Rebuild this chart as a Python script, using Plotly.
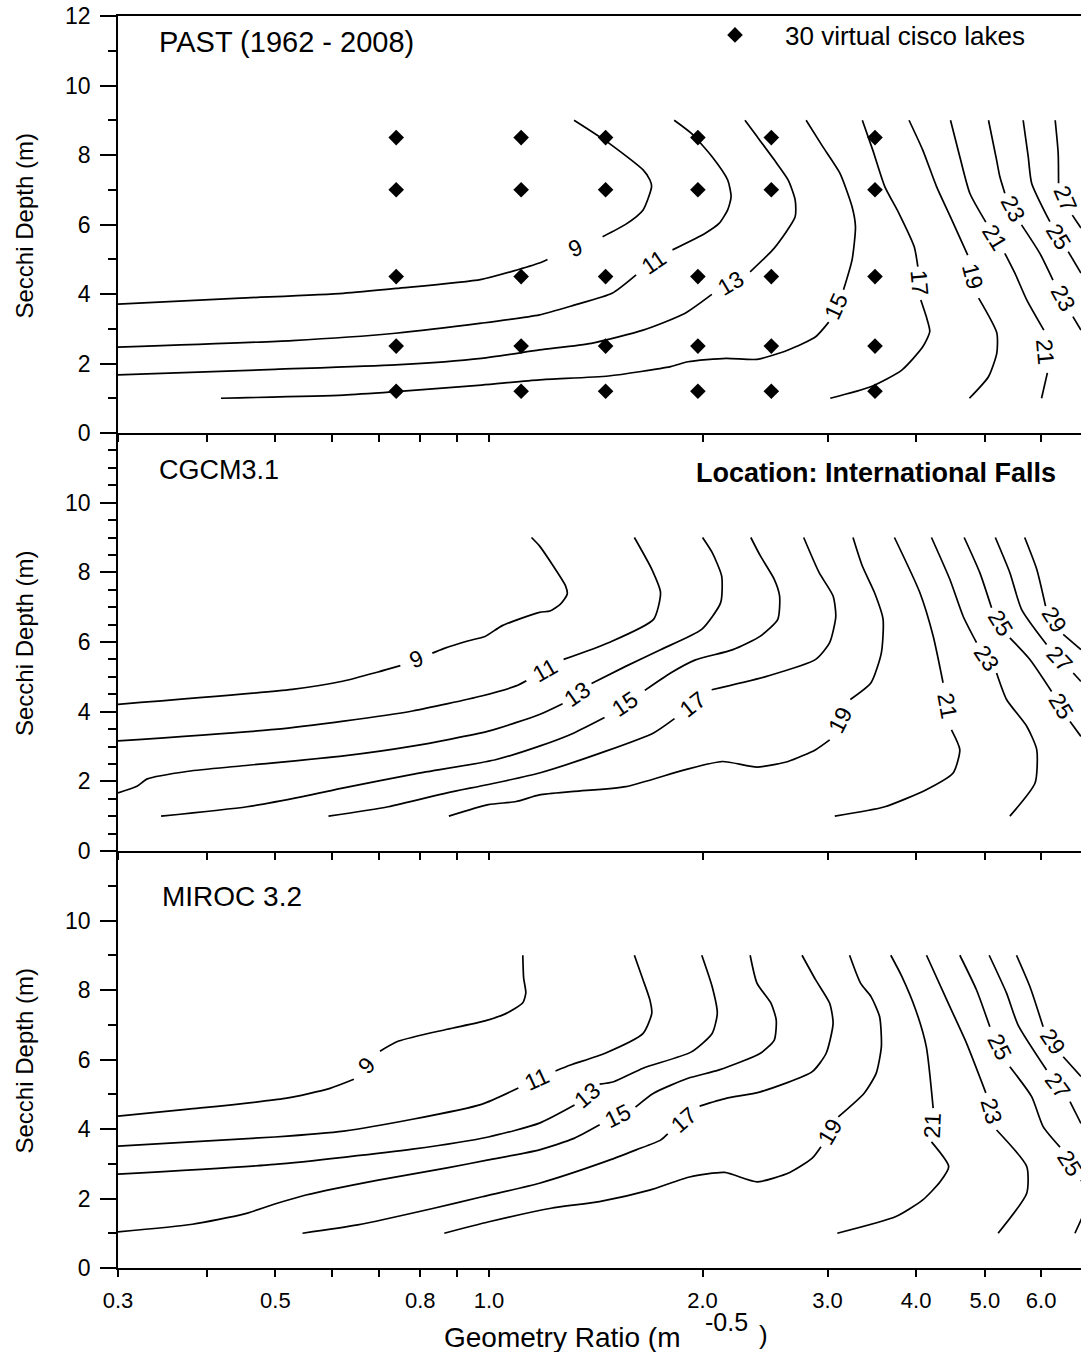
import math
import plotly.graph_objects as go

FONT = "Liberation Sans, Arial, Helvetica, sans-serif"

# ---------------- axis / tick data ----------------
x_min, x_max = 0.3, 6.83
y_min, y_max = 0, 12
x_tick_vals = [0.3, 0.4, 0.5, 0.6, 0.7, 0.8, 0.9, 1.0, 2.0, 3.0, 4.0, 5.0, 6.0]
x_tick_text = ["0.3", "", "0.5", "", "", "0.8", "", "1.0", "2.0", "3.0", "4.0", "5.0", "6.0"]
y_tick_vals_top = [0, 2, 4, 6, 8, 10, 12]
y_tick_vals = [0, 2, 4, 6, 8, 10]
panel_names = ["PAST (1962 - 2008)", "CGCM3.1", "MIROC 3.2"]
y_minor_step = [1, 0.5, 1]

# ---------------- 30 virtual cisco lakes ----------------
lake_gr = [0.74, 1.11, 1.46, 1.97, 2.5, 3.5]
lake_sd = [1.2, 2.5, 4.5, 7.0, 8.5]

# ---------------- PAST isotherms (None = label gap) ----------------
past_9_gr = [0.30, 0.446, 0.623, 0.740, 0.976, 1.178, 1.209, None, 1.446, 1.560, 1.649, 1.695, 1.686, 1.649, 1.474, 1.318]
past_9_sd = [3.71, 3.88, 4.02, 4.16, 4.42, 4.89, 4.99, None, 5.65, 6.01, 6.42, 7.09, 7.28, 7.57, 8.35, 9.0]
past_11_gr = [0.30, 0.528, 0.738, 0.976, 1.178, 1.318, 1.491, 1.612, None, 1.814, 2.018, 2.110, 2.170, 2.194, 2.170, 2.063, 1.929, 1.824]
past_11_sd = [2.47, 2.66, 2.87, 3.16, 3.40, 3.68, 4.02, 4.55, None, 5.27, 5.75, 6.03, 6.42, 6.80, 7.28, 7.95, 8.62, 9.0]
past_13_gr = [0.30, 0.499, 0.738, 0.976, 1.178, 1.394, 1.649, 1.887, 2.061, None, 2.334, 2.524, 2.701, 2.701, 2.641, 2.524, 2.387, 2.295]
past_13_sd = [1.67, 1.83, 1.96, 2.15, 2.39, 2.58, 2.96, 3.44, 3.99, None, 4.64, 5.32, 6.22, 6.71, 7.28, 7.86, 8.53, 9.0]
past_15_gr = [0.419, 0.624, 0.740, 0.976, 1.178, 1.474, 1.803, 1.908, 2.158, 2.387, 2.640, 2.887, 3.012, None, 3.160, 3.249, 3.285, 3.249, 3.124, 2.954, 2.799]
past_15_sd = [1.00, 1.09, 1.19, 1.38, 1.53, 1.64, 1.91, 2.05, 2.15, 2.12, 2.39, 2.77, 3.19, None, 4.12, 4.98, 5.94, 6.51, 7.47, 8.24, 9.0]
past_17_gr = [3.027, 3.452, 3.818, 4.087, 4.181, 4.134, 4.061, None, 4.022, 3.975, 3.781, 3.613, 3.475, 3.359]
past_17_sd = [1.00, 1.33, 1.81, 2.48, 2.92, 3.35, 3.83, None, 4.79, 5.36, 6.33, 7.09, 8.14, 9.0]
past_19_gr = [3.909, 4.087, 4.274, 4.471, 4.729, None, 4.90, 5.197, 5.197, 5.058, 4.755]
past_19_sd = [9.0, 8.14, 7.09, 6.22, 5.12, None, 3.88, 2.88, 2.30, 1.62, 1.00]
past_21_gr = [4.472, 4.609, 4.761, 5.015, None, 5.334, 5.511, 5.727, 6.054, None, 6.124, 6.009]
past_21_sd = [9.0, 7.95, 6.90, 6.07, None, 5.17, 4.60, 3.83, 2.96, None, 1.73, 1.00]
past_23_gr = [5.059, 5.193, 5.248, 5.334, None, 5.631, 5.976, 6.236, None, 6.653, 6.829]
past_23_sd = [9.0, 7.86, 7.38, 6.90, None, 5.99, 5.17, 4.40, None, 3.35, 2.96]
past_25_gr = [5.661, 5.755, 5.819, 6.174, None, 6.552, 6.829]
past_25_sd = [9.0, 7.95, 7.19, 6.08, None, 5.22, 4.60]
past_27_gr = [6.281, 6.342, 6.350, None, 6.640, 6.829]
past_27_sd = [9.0, 8.06, 7.19, None, 6.27, 5.90]

# ---------------- CGCM3.1 isotherms ----------------
cgcm_9_gr = [0.30, 0.528, 0.624, 0.698, 0.750, None, 0.832, 0.863, 0.933, 0.987, 1.044, 1.178, 1.219, 1.260, 1.289, 1.282, 1.232, 1.178, 1.148]
cgcm_9_sd = [4.21, 4.64, 4.88, 5.14, 5.32, None, 5.68, 5.81, 6.03, 6.16, 6.47, 6.85, 6.89, 7.08, 7.37, 7.61, 8.18, 8.76, 9.0]
cgcm_11_gr = [0.30, 0.499, 0.624, 0.780, 0.976, 1.092, 1.129, None, 1.274, 1.474, 1.706, 1.745, 1.696, 1.603]
cgcm_11_sd = [3.16, 3.49, 3.73, 4.02, 4.45, 4.74, 4.89, None, 5.50, 5.98, 6.65, 7.42, 8.09, 9.0]
cgcm_13_gr = [0.30, 0.319, 0.330, 0.377, 0.446, 0.624, 0.780, 0.998, 1.178, 1.270, None, 1.395, 1.558, 1.745, 1.994, 2.121, 2.128, 2.063, 2.0]
cgcm_13_sd = [1.67, 1.86, 2.07, 2.29, 2.44, 2.73, 3.01, 3.44, 3.92, 4.23, None, 4.81, 5.30, 5.78, 6.36, 7.13, 7.89, 8.57, 9.0]
cgcm_15_gr = [0.345, 0.456, 0.546, 0.624, 0.780, 1.021, 1.178, 1.318, 1.455, None, 1.658, 1.803, 1.951, 2.207, 2.413, 2.553, 2.568, 2.524, 2.413, 2.339]
cgcm_15_sd = [1.0, 1.27, 1.56, 1.81, 2.20, 2.62, 3.01, 3.39, 3.83, None, 4.61, 5.11, 5.48, 5.78, 6.17, 6.65, 7.32, 7.80, 8.47, 9.0]
cgcm_17_gr = [0.594, 0.721, 0.873, 0.998, 1.178, 1.458, 1.706, 1.826, None, 2.06, 2.468, 2.887, 3.021, 3.082, 3.055, 2.920, 2.777]
cgcm_17_sd = [1.0, 1.27, 1.67, 1.91, 2.24, 2.86, 3.39, 3.80, None, 4.63, 5.02, 5.50, 5.98, 6.74, 7.32, 7.99, 9.0]
cgcm_19_gr = [0.878, 0.998, 1.092, 1.178, 1.318, 1.560, 1.887, 2.134, 2.387, 2.640, 2.887, 3.021, None, 3.231, 3.455, 3.573, 3.593, 3.494, 3.359, 3.259]
cgcm_19_sd = [1.0, 1.33, 1.42, 1.61, 1.71, 1.85, 2.33, 2.57, 2.41, 2.57, 2.91, 3.19, None, 4.35, 4.83, 5.69, 6.65, 7.42, 8.18, 9.0]
cgcm_21_gr = [3.728, 4.048, 4.227, 4.365, None, 4.486, 4.609, 4.510, 4.134, 3.613, 3.072]
cgcm_21_sd = [9.0, 7.42, 6.17, 4.83, None, 3.48, 2.91, 2.24, 1.76, 1.27, 1.0]
cgcm_23_gr = [4.204, 4.462, 4.659, 4.866, None, 5.193, 5.364, 5.727, 5.916, 5.884, 5.422]
cgcm_23_sd = [9.0, 7.80, 6.74, 5.98, None, 5.11, 4.35, 3.58, 2.91, 1.95, 1.0]
cgcm_25_gr = [4.675, 4.918, 5.109, None, 5.422, 5.786, 6.209, None, 6.591, 6.829]
cgcm_25_sd = [9.0, 7.99, 6.98, None, 6.12, 5.50, 4.58, None, 3.72, 3.29]
cgcm_27_gr = [5.172, 5.422, 5.631, 6.108, None, 6.660, 6.829]
cgcm_27_sd = [9.0, 7.99, 6.94, 5.93, None, 5.11, 4.87]
cgcm_29_gr = [5.689, 5.916, 6.088, None, 6.447, 6.829]
cgcm_29_sd = [9.0, 8.09, 7.03, None, 6.22, 5.78]

# ---------------- MIROC 3.2 isotherms ----------------
miroc_9_gr = [0.30, 0.377, 0.516, 0.597, 0.645, None, 0.702, 0.746, 0.873, 0.987, 1.056, 1.116, 1.127, 1.119, 1.116]
miroc_9_sd = [4.37, 4.57, 4.88, 5.17, 5.43, None, 6.24, 6.53, 6.87, 7.11, 7.32, 7.63, 7.92, 8.35, 9.0]
miroc_11_gr = [0.30, 0.499, 0.624, 0.780, 0.976, 1.100, None, 1.241, 1.303, 1.458, 1.649, 1.696, 1.686, 1.649, 1.603]
miroc_11_sd = [3.51, 3.77, 3.94, 4.28, 4.71, 5.18, None, 5.67, 5.84, 6.18, 6.75, 7.33, 7.71, 8.29, 9.0]
miroc_13_gr = [0.30, 0.499, 0.780, 0.998, 1.178, 1.320, None, 1.432, 1.499, 1.649, 1.929, 2.063, 2.098, 2.063, 1.995]
miroc_13_sd = [2.70, 2.98, 3.42, 3.77, 4.17, 4.69, None, 5.29, 5.36, 5.75, 6.22, 6.75, 7.33, 8.10, 9.0]
miroc_15_gr = [0.30, 0.382, 0.451, 0.499, 0.552, 0.698, 0.873, 0.998, 1.178, 1.318, 1.432, None, 1.609, 1.706, 1.908, 2.110, 2.413, 2.524, 2.540, 2.497, 2.387, 2.334]
miroc_15_sd = [1.04, 1.26, 1.55, 1.84, 2.10, 2.53, 2.88, 3.11, 3.40, 3.73, 4.12, None, 4.63, 5.03, 5.46, 5.70, 6.18, 6.56, 7.14, 7.62, 8.19, 9.0]
miroc_17_gr = [0.546, 0.653, 0.836, 0.978, 1.178, 1.458, 1.612, 1.745, 1.786, None, 1.981, 2.158, 2.413, 2.855, 2.987, 3.055, 3.021, 2.887, 2.762]
miroc_17_sd = [1.0, 1.24, 1.72, 2.05, 2.44, 3.06, 3.40, 3.68, 3.86, None, 4.66, 4.88, 5.07, 5.65, 6.18, 7.04, 7.62, 8.29, 9.0]
miroc_19_gr = [0.865, 1.0, 1.223, 1.431, 1.684, 1.918, 2.148, 2.387, 2.654, 2.855, 2.937, None, 3.107, 3.379, 3.513, 3.573, 3.553, 3.455, 3.341, 3.223]
miroc_19_sd = [1.0, 1.33, 1.72, 1.91, 2.24, 2.62, 2.75, 2.48, 2.75, 3.16, 3.49, None, 4.35, 5.03, 5.60, 6.37, 7.23, 7.81, 8.19, 9.0]
miroc_21_gr = [3.684, 3.821, 3.996, 4.134, 4.227, None, 4.204, 4.446, 4.324, 4.087, 3.746, 3.097]
miroc_21_sd = [9.0, 8.38, 7.42, 6.37, 4.60, None, 3.63, 2.92, 2.48, 1.96, 1.48, 1.0]
miroc_23_gr = [4.137, 4.462, 4.710, 5.015, None, 5.193, 5.727, 5.727, 5.219]
miroc_23_sd = [9.0, 7.52, 6.47, 5.04, None, 3.97, 2.92, 2.15, 1.0]
miroc_23b_gr = [6.697, 6.829, 7.03]
miroc_23b_sd = [1.0, 1.38, 1.96]
miroc_25_gr = [4.609, 4.866, 5.081, None, 5.422, 5.819, 6.040, 6.380, None, 6.829, 7.03]
miroc_25_sd = [9.0, 8.0, 6.94, None, 5.79, 4.93, 4.07, 3.48, None, 2.53, 2.10]
miroc_27_gr = [5.070, 5.364, 5.569, 6.108, None, 6.591, 6.829]
miroc_27_sd = [9.0, 7.91, 6.99, 5.70, None, 4.79, 4.16]
miroc_29_gr = [5.540, 5.786, 6.040, None, 6.447, 6.829]
miroc_29_sd = [9.0, 8.10, 6.94, None, 6.08, 5.51]

# (level, x, y, labelled)
past_lines = [(9, past_9_gr, past_9_sd, True), (11, past_11_gr, past_11_sd, True),
              (13, past_13_gr, past_13_sd, True), (15, past_15_gr, past_15_sd, True),
              (17, past_17_gr, past_17_sd, True), (19, past_19_gr, past_19_sd, True),
              (21, past_21_gr, past_21_sd, True), (23, past_23_gr, past_23_sd, True),
              (25, past_25_gr, past_25_sd, True), (27, past_27_gr, past_27_sd, True)]
cgcm_lines = [(9, cgcm_9_gr, cgcm_9_sd, True), (11, cgcm_11_gr, cgcm_11_sd, True),
              (13, cgcm_13_gr, cgcm_13_sd, True), (15, cgcm_15_gr, cgcm_15_sd, True),
              (17, cgcm_17_gr, cgcm_17_sd, True), (19, cgcm_19_gr, cgcm_19_sd, True),
              (21, cgcm_21_gr, cgcm_21_sd, True), (23, cgcm_23_gr, cgcm_23_sd, True),
              (25, cgcm_25_gr, cgcm_25_sd, True), (27, cgcm_27_gr, cgcm_27_sd, True),
              (29, cgcm_29_gr, cgcm_29_sd, True)]
miroc_lines = [(9, miroc_9_gr, miroc_9_sd, True), (11, miroc_11_gr, miroc_11_sd, True),
               (13, miroc_13_gr, miroc_13_sd, True), (15, miroc_15_gr, miroc_15_sd, True),
               (17, miroc_17_gr, miroc_17_sd, True), (19, miroc_19_gr, miroc_19_sd, True),
               (21, miroc_21_gr, miroc_21_sd, True), (23, miroc_23_gr, miroc_23_sd, True),
               (23, miroc_23b_gr, miroc_23b_sd, False), (25, miroc_25_gr, miroc_25_sd, True),
               (27, miroc_27_gr, miroc_27_sd, True), (29, miroc_29_gr, miroc_29_sd, True)]
all_panels = [past_lines, cgcm_lines, miroc_lines]

# ---------------- layout geometry ----------------
W, H = 1081, 1352
ML, MR, MT, MB = 118, 0, 16, 84
PW = W - ML - MR
PH = H - MT - MB
panel_px = [(16, 433), (433, 851), (851, 1268)]   # (top, bottom) in page pixels
domains = [[(H - MB - b) / PH, (H - MB - t) / PH] for (t, b) in panel_px]
lx0, lx1 = math.log10(x_min), math.log10(x_max)
px_per_dec = PW / (lx1 - lx0)


def paper_x(px):
    return (px - ML) / PW


def paper_y(py):
    return (H - MB - py) / PH


fig = go.Figure()
annotations = []
shapes = []

for i, lines in enumerate(all_panels):
    sfx = "" if i == 0 else str(i + 1)
    xa, ya = "x" + sfx, "y" + sfx
    top, bot = panel_px[i]
    px_per_unit = (bot - top) / (y_max - y_min)
    for level, xs, ys, labelled in lines:
        fig.add_trace(go.Scatter(
            x=xs, y=ys, mode="lines", xaxis=xa, yaxis=ya,
            line=dict(color="black", width=1.7, shape="spline", smoothing=0.6),
            connectgaps=False, showlegend=False, hoverinfo="skip"))
        if not labelled:
            continue
        for k, v in enumerate(xs):
            if v is None:
                xa0, ya0 = xs[k - 1], ys[k - 1]
                xb0, yb0 = xs[k + 1], ys[k + 1]
                la, lb = math.log10(xa0), math.log10(xb0)
                dx = (lb - la) * px_per_dec
                dy = -(yb0 - ya0) * px_per_unit
                ang = math.degrees(math.atan2(dy, dx))
                if ang > 90:
                    ang -= 180
                elif ang <= -90:
                    ang += 180
                annotations.append(dict(
                    x=(la + lb) / 2, y=(ya0 + yb0) / 2, xref=xa, yref=ya,
                    text=str(level), textangle=ang, showarrow=False,
                    xanchor="center", yanchor="middle",
                    font=dict(family=FONT, size=23, color="black")))
    # longer tick at 1.0
    shapes.append(dict(type="line", xref=xa, yref=ya, x0=1.0, x1=1.0,
                       ysizemode="pixel", yanchor=0, y0=0, y1=-15,
                       line=dict(color="black", width=1.5)))

# lakes
lx_pts = [g for s in lake_sd for g in lake_gr]
ly_pts = [s for s in lake_sd for g in lake_gr]
fig.add_trace(go.Scatter(
    x=lx_pts, y=ly_pts, mode="markers", xaxis="x", yaxis="y",
    marker=dict(symbol="diamond", size=12, color="black"),
    name="30 virtual cisco lakes", showlegend=True, hoverinfo="skip"))

axis_common = dict(showline=True, linecolor="black", linewidth=1.8,
                   showgrid=False, zeroline=False, ticks="outside",
                   tickcolor="black", tickwidth=1.5)

layout = dict(
    width=W, height=H, margin=dict(l=ML, r=MR, t=MT, b=MB),
    paper_bgcolor="white", plot_bgcolor="white",
    font=dict(family=FONT, color="black"),
    showlegend=True,
    legend=dict(x=paper_x(685), y=paper_y(35), xanchor="left", yanchor="middle",
                itemwidth=90, bgcolor="rgba(0,0,0,0)", borderwidth=0,
                font=dict(family=FONT, size=26, color="black")),
)
for i in range(3):
    sfx = "" if i == 0 else str(i + 1)
    layout["xaxis" + sfx] = dict(
        axis_common, type="log", range=[lx0, lx1], domain=[0, 1], anchor="y" + sfx,
        tickmode="array", tickvals=x_tick_vals, ticktext=x_tick_text, ticklen=7,
        showticklabels=(i == 2), mirror=(i == 0),
        ticklabelstandoff=5,
        tickfont=dict(family=FONT, size=22, color="black"))
    layout["yaxis" + sfx] = dict(
        axis_common, range=[y_min, y_max], domain=domains[i], anchor="x" + sfx,
        tickmode="array", tickvals=(y_tick_vals_top if i == 0 else y_tick_vals),
        ticklen=16, ticklabelstandoff=5,
        tickfont=dict(family=FONT, size=23, color="black"),
        minor=dict(dtick=y_minor_step[i], tick0=0, ticks="outside", ticklen=8,
                   tickwidth=1.5, tickcolor="black"))

# panel titles and texts
title_pos = [(157, 42), (157, 470), (160, 896)]
title_size = [29, 27, 28]
for name, (px, py), fs in zip(panel_names, title_pos, title_size):
    annotations.append(dict(x=paper_x(px), y=paper_y(py), xref="paper", yref="paper",
                            text=name, showarrow=False, xanchor="left", yanchor="middle",
                            font=dict(family=FONT, size=fs, color="black")))
annotations.append(dict(x=paper_x(1058), y=paper_y(473), xref="paper", yref="paper",
                        text="<b>Location: International Falls</b>", showarrow=False,
                        xanchor="right", yanchor="middle",
                        font=dict(family=FONT, size=27, color="black")))
for (t, b) in panel_px:
    annotations.append(dict(x=paper_x(24), y=paper_y((t + b) / 2 + 2), xref="paper", yref="paper",
                            text="Secchi Depth (m)", textangle=-90, showarrow=False,
                            xanchor="center", yanchor="middle",
                            font=dict(family=FONT, size=24, color="black")))
annotations.append(dict(x=paper_x(683), y=paper_y(1337), xref="paper", yref="paper",
                        text="Geometry Ratio (m", showarrow=False, xanchor="right",
                        yanchor="middle", font=dict(family=FONT, size=28, color="black")))
annotations.append(dict(x=paper_x(726), y=paper_y(1322), xref="paper", yref="paper",
                        text="-0.5", showarrow=False, xanchor="center",
                        yanchor="middle", font=dict(family=FONT, size=25, color="black")))
annotations.append(dict(x=paper_x(763), y=paper_y(1335), xref="paper", yref="paper",
                        text=")", showarrow=False, xanchor="center",
                        yanchor="middle", font=dict(family=FONT, size=26, color="black")))

layout["annotations"] = annotations
layout["shapes"] = shapes
fig.update_layout(**layout)
fig.write_html("out.html")
